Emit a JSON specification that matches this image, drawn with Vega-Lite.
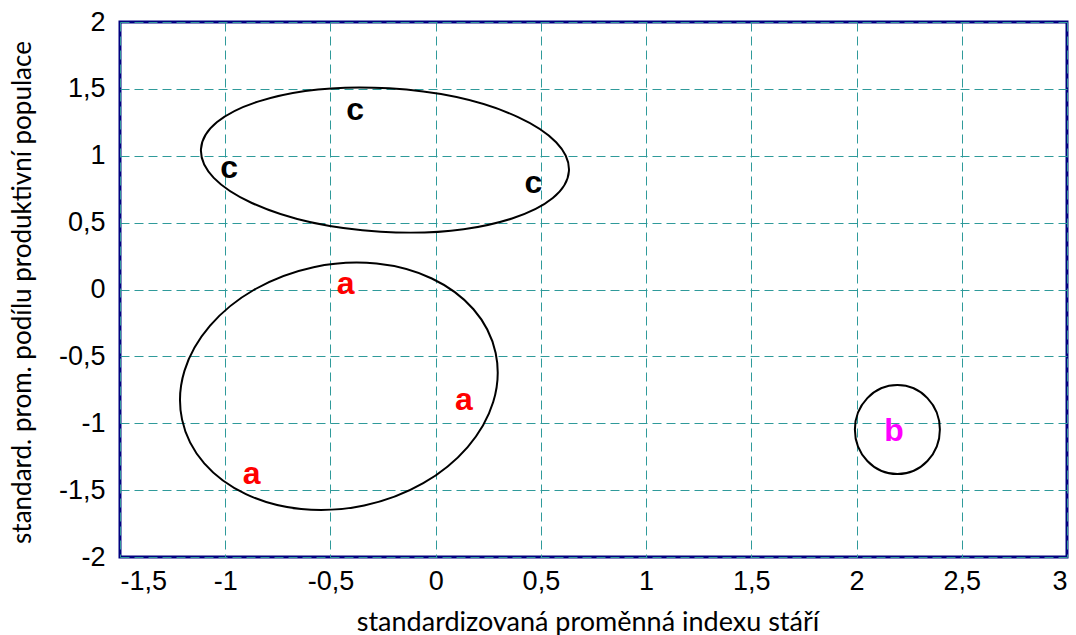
{
  "$schema": "https://vega.github.io/schema/vega-lite/v6.json",
  "width": 947,
  "height": 535,
  "autosize": {"type": "none"},
  "padding": {"left": 120, "top": 22, "right": 9, "bottom": 78},
  "background": "white",
  "config": {
    "view": {"stroke": "#000080", "strokeWidth": 3},
    "axis": {
      "grid": true,
      "gridColor": "#2f9a9a",
      "gridDash": [9, 5],
      "gridWidth": 1,
      "gridOpacity": 1,
      "domain": false,
      "ticks": false,
      "labelFont": "Liberation Sans",
      "labelFontSize": 27,
      "labelColor": "black",
      "titleFont": "Lato",
      "titleFontWeight": "normal",
      "titleColor": "black"
    }
  },
  "datasets": {
    "labels": [
      {"x": -0.383, "y": 1.339, "label": "c", "group": "c"},
      {"x": -0.981, "y": 0.909, "label": "c", "group": "c"},
      {"x": 0.464, "y": 0.799, "label": "c", "group": "c"},
      {"x": -0.428, "y": 0.044, "label": "a", "group": "a"},
      {"x": 0.134, "y": -0.829, "label": "a", "group": "a"},
      {"x": -0.874, "y": -1.377, "label": "a", "group": "a"},
      {"x": 2.178, "y": -1.061, "label": "b", "group": "b"}
    ],
    "clusters": [
      {"x": -0.241, "y": 0.968, "group": "c"},
      {"x": -0.460, "y": -0.724, "group": "a"},
      {"x": 2.194, "y": -1.047, "group": "b"}
    ]
  },
  "layer": [
    {
      "data": {"name": "clusters"},
      "transform": [{"filter": "datum.group === 'c'"}],
      "mark": {
        "type": "point",
        "shape": "M -1 0 A 1 0.3896 0 1 0 1 0 A 1 0.3896 0 1 0 -1 0 Z",
        "size": 135866,
        "angle": 3.4,
        "filled": false,
        "color": "black",
        "strokeWidth": 2,
        "opacity": 1
      },
      "encoding": {
        "x": {"field": "x", "type": "quantitative", "scale": {"domain": [-1.5, 3], "nice": false, "zero": false},
          "axis": {"values": [-1.5, -1, -0.5, 0, 0.5, 1, 1.5, 2, 2.5, 3],
            "labelExpr": "(datum.value < 0 ? '-' : '') + replace(format(abs(datum.value), '~g'), '.', ',')",
            "labelPadding": 11,
            "labelFontSize": 27,
            "title": "standardizovaná proměnná indexu stáří",
            "titleFontSize": 27,
            "titleAnchor": "middle",
            "titleX": 467.5,
            "titleY": 73,
            "titleBaseline": "alphabetic"}},
        "y": {"field": "y", "type": "quantitative", "scale": {"domain": [-2, 2], "nice": false, "zero": false},
          "axis": {"values": [-2, -1.5, -1, -0.5, 0, 0.5, 1, 1.5, 2],
            "labelExpr": "(datum.value < 0 ? '-' : '') + replace(format(abs(datum.value), '~g'), '.', ',')",
            "labelPadding": 15,
            "labelFontSize": 27,
            "title": "standard. prom. podílu produktivní populace",
            "titleFontSize": 26,
            "titleAngle": -90,
            "titleX": -98,
            "titleY": 270,
            "titleAlign": "center",
            "titleBaseline": "middle"}}
      }
    },
    {
      "data": {"name": "clusters"},
      "transform": [{"filter": "datum.group === 'a'"}],
      "mark": {
        "type": "point",
        "shape": "M -1 0 A 1 0.760 0 1 0 1 0 A 1 0.760 0 1 0 -1 0 Z",
        "size": 102784,
        "angle": -12,
        "filled": false,
        "color": "black",
        "strokeWidth": 2,
        "opacity": 1
      },
      "encoding": {
        "x": {"field": "x", "type": "quantitative"},
        "y": {"field": "y", "type": "quantitative"}
      }
    },
    {
      "data": {"name": "clusters"},
      "transform": [{"filter": "datum.group === 'b'"}],
      "mark": {
        "type": "point",
        "shape": "M -1 0 A 1 1.047 0 1 0 1 0 A 1 1.047 0 1 0 -1 0 Z",
        "size": 7225,
        "filled": false,
        "color": "black",
        "strokeWidth": 2,
        "opacity": 1
      },
      "encoding": {
        "x": {"field": "x", "type": "quantitative"},
        "y": {"field": "y", "type": "quantitative"}
      }
    },
    {
      "data": {"name": "labels"},
      "mark": {"type": "text", "font": "Liberation Sans", "fontWeight": "bold", "fontSize": 32, "align": "center", "baseline": "middle"},
      "encoding": {
        "x": {"field": "x", "type": "quantitative"},
        "y": {"field": "y", "type": "quantitative"},
        "text": {"field": "label"},
        "color": {"field": "group", "type": "nominal", "scale": {"domain": ["a", "b", "c"], "range": ["#ff0000", "#ff00ff", "#000000"]}, "legend": null}
      }
    }
  ]
}
